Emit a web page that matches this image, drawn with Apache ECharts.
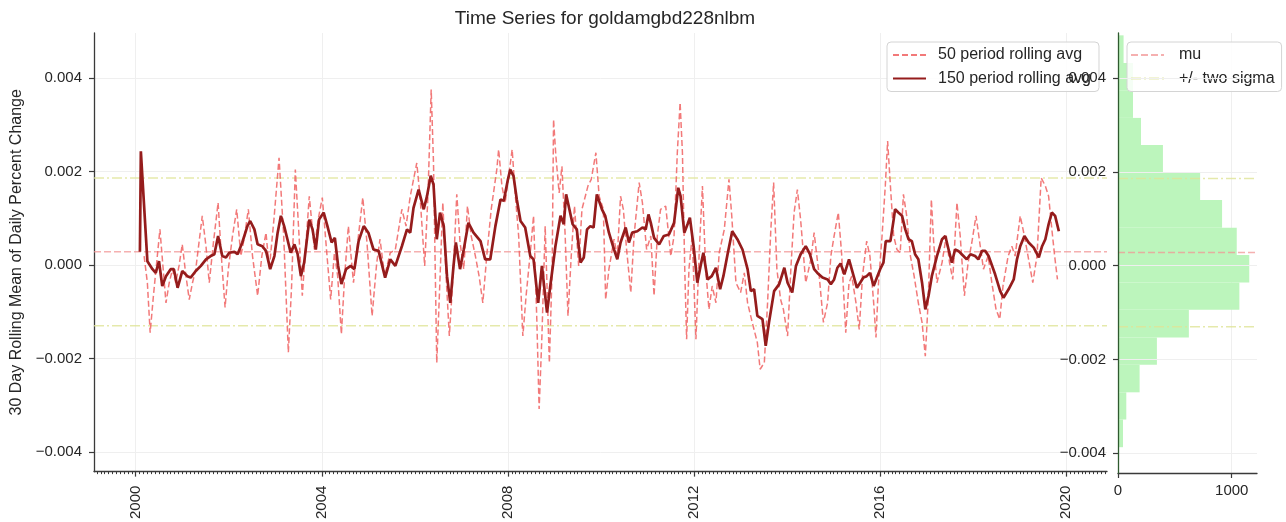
<!DOCTYPE html>
<html>
<head>
<meta charset="utf-8">
<title>Time Series for goldamgbd228nlbm</title>
<script src="https://cdn.jsdelivr.net/npm/echarts@6/dist/echarts.min.js"></script>
<style>
  html, body { margin: 0; padding: 0; background: #ffffff; }
  #chart { width: 1286px; height: 522px; }
</style>
</head>
<body>
<div id="chart"></div>
<script>
// ---- data -------------------------------------------------------------
// 50 period rolling average (decimal years / value)
const dates50 = [
  2000.18, 2000.25, 2000.31, 2000.38, 2000.45, 2000.52, 2000.59, 2000.65, 2000.72, 2000.79,
  2000.86, 2000.93, 2001.00, 2001.08, 2001.15, 2001.22, 2001.29, 2001.36, 2001.43, 2001.51,
  2001.58, 2001.67, 2001.77, 2001.84, 2001.92, 2001.99, 2002.08, 2002.17, 2002.26, 2002.34,
  2002.42, 2002.51, 2002.62, 2002.71, 2002.80, 2002.87, 2002.97, 2003.08, 2003.18, 2003.28,
  2003.35, 2003.43, 2003.51, 2003.58, 2003.66, 2003.73, 2003.84, 2003.92, 2004.01, 2004.10,
  2004.19, 2004.27, 2004.34, 2004.42, 2004.49, 2004.57, 2004.68, 2004.77, 2004.88, 2004.97,
  2005.08, 2005.18, 2005.25, 2005.35, 2005.47, 2005.58, 2005.72, 2005.81, 2005.90, 2006.04,
  2006.11, 2006.21, 2006.28, 2006.35, 2006.40, 2006.47, 2006.52, 2006.60, 2006.67, 2006.74,
  2006.82, 2006.90, 2006.97, 2007.05, 2007.13, 2007.21, 2007.30, 2007.38, 2007.46, 2007.55,
  2007.64, 2007.76, 2007.80, 2007.87, 2007.94, 2008.09, 2008.16, 2008.23, 2008.32, 2008.39,
  2008.48, 2008.55, 2008.62, 2008.67, 2008.73, 2008.80, 2008.89, 2008.95, 2008.98, 2009.03,
  2009.10, 2009.16, 2009.23, 2009.29, 2009.36, 2009.43, 2009.52, 2009.59, 2009.72, 2009.79,
  2009.89, 2009.96, 2010.05, 2010.10, 2010.17, 2010.28, 2010.35, 2010.42, 2010.48, 2010.55,
  2010.64, 2010.71, 2010.82, 2010.89, 2010.98, 2011.07, 2011.14, 2011.21, 2011.28, 2011.39,
  2011.50, 2011.57, 2011.64, 2011.70, 2011.75, 2011.80, 2011.84, 2011.89, 2011.96, 2012.04,
  2012.11, 2012.18, 2012.25, 2012.32, 2012.39, 2012.47, 2012.54, 2012.65, 2012.75, 2012.81,
  2012.90, 2013.00, 2013.08, 2013.15, 2013.25, 2013.36, 2013.42, 2013.51, 2013.58, 2013.65,
  2013.71, 2013.78, 2013.86, 2013.92, 2014.01, 2014.08, 2014.15, 2014.22, 2014.29, 2014.40,
  2014.51, 2014.58, 2014.69, 2014.78, 2014.87, 2014.94, 2015.01, 2015.10, 2015.17, 2015.26,
  2015.33, 2015.39, 2015.48, 2015.55, 2015.62, 2015.71, 2015.78, 2015.86, 2015.91, 2015.96,
  2016.04, 2016.11, 2016.16, 2016.22, 2016.29, 2016.36, 2016.43, 2016.50, 2016.57, 2016.65,
  2016.73, 2016.82, 2016.90, 2016.97, 2017.03, 2017.10, 2017.15, 2017.22, 2017.33, 2017.42,
  2017.49, 2017.56, 2017.65, 2017.72, 2017.81, 2017.89, 2017.97, 2018.06, 2018.14, 2018.22,
  2018.32, 2018.40, 2018.49, 2018.57, 2018.64, 2018.75, 2018.83, 2018.90, 2019.01, 2019.10,
  2019.19, 2019.28, 2019.37, 2019.46, 2019.55, 2019.62, 2019.69, 2019.75, 2019.81
];
const values50 = [
  0.00019, -0.00038, -0.00145, -0.00066, 0.00005, 0.00076, -0.00009, -0.00081, -0.00038, -0.00009,
  -0.00038, -0.00002, 0.00044, -0.00024, -0.00074, -0.00038, -0.00009, 0.00048, 0.00105, 0.00040,
  -0.00038, 0.00048, 0.00133, 0.00019, -0.00091, -0.00009, 0.00062, 0.00119, 0.00019, 0.00062,
  0.00119, 0.00019, -0.00066, 0.00019, 0.00069, -0.00009, 0.00097, 0.00229, 0.00062, -0.00187,
  -0.00045, 0.00204, 0.00062, -0.00066, 0.00048, 0.00147, 0.00033, 0.00097, 0.00144, 0.00033,
  -0.00074, 0.00026, -0.00024, -0.00148, -0.00024, 0.00083, -0.00038, 0.00048, 0.00144, 0.00048,
  -0.00109, 0.00005, 0.00055, -0.00024, 0.00026, 0.00033, 0.00119, 0.00083, 0.00147, 0.00218,
  0.00147, -0.00002, 0.00147, 0.00375, 0.00218, -0.00209, -0.00081, 0.00133, -0.00024, -0.00152,
  -0.00024, 0.00151, 0.00048, -0.00009, 0.00126, 0.00062, 0.00019, -0.00024, -0.00081, 0.00026,
  0.00119, 0.00204, 0.00247, 0.00169, 0.00133, 0.00247, 0.00147, 0.00062, -0.00152, -0.00066,
  0.00026, 0.00105, -0.00116, -0.00308, -0.00152, 0.00083, -0.00209, -0.00009, 0.00311, 0.00233,
  0.00154, 0.00211, 0.00062, -0.00109, 0.00019, 0.00126, -0.00002, 0.00119, 0.00169, 0.00183,
  0.00240, 0.00147, 0.00119, -0.00074, -0.00009, 0.00055, 0.00019, 0.00147, 0.00119, 0.00033,
  -0.00059, 0.00062, 0.00176, 0.00133, 0.00033, 0.00062, -0.00066, 0.00062, 0.00119, 0.00126,
  0.00019, 0.00062, 0.00240, 0.00347, 0.00240, -0.00009, -0.00159, -0.00009, 0.00062, -0.00159,
  0.00026, 0.00169, -0.00009, -0.00095, -0.00045, -0.00081, 0.00026, 0.00076, 0.00183, 0.00105,
  -0.00038, -0.00059, -0.00017, -0.00081, -0.00123, -0.00166, -0.00223, -0.00209, -0.00081, 0.00076,
  0.00176, -0.00009, -0.00074, -0.00095, -0.00152, -0.00009, 0.00112, 0.00161, 0.00097, -0.00038,
  0.00012, 0.00069, -0.00024, -0.00123, -0.00081, 0.00019, 0.00062, 0.00112, 0.00026, -0.00145,
  -0.00038, -0.00024, -0.00081, -0.00138, -0.00024, 0.00051, 0.00019, -0.00081, -0.00155, -0.00045,
  0.00062, 0.00169, 0.00265, 0.00169, 0.00062, 0.00033, 0.00026, 0.00151, 0.00105, 0.00019,
  -0.00024, -0.00081, -0.00123, -0.00195, -0.00081, 0.00140, 0.00048, -0.00038, 0.00005, 0.00062,
  0.00005, -0.00031, 0.00133, 0.00062, -0.00066, 0.00005, 0.00048, 0.00105, 0.00048, -0.00009,
  0.00019, -0.00038, -0.00095, -0.00116, -0.00045, 0.00019, 0.00040, 0.00019, 0.00105, 0.00062,
  0.00012, -0.00038, 0.00019, 0.00186, 0.00169, 0.00147, 0.00076, 0.00019, -0.00031
];

// 150 period rolling average (decimal years / value)
const dates150 = [
  2000.09, 2000.11, 2000.13, 2000.25, 2000.36, 2000.43, 2000.50, 2000.57, 2000.65, 2000.75,
  2000.82, 2000.90, 2001.00, 2001.11, 2001.18, 2001.29, 2001.40, 2001.51, 2001.61, 2001.69,
  2001.77, 2001.86, 2001.94, 2002.01, 2002.12, 2002.19, 2002.29, 2002.40, 2002.46, 2002.55,
  2002.62, 2002.72, 2002.80, 2002.89, 2002.98, 2003.05, 2003.12, 2003.19, 2003.26, 2003.33,
  2003.41, 2003.48, 2003.55, 2003.62, 2003.73, 2003.80, 2003.87, 2003.94, 2004.04, 2004.12,
  2004.21, 2004.28, 2004.35, 2004.42, 2004.52, 2004.62, 2004.70, 2004.79, 2004.90, 2005.00,
  2005.11, 2005.22, 2005.36, 2005.47, 2005.58, 2005.72, 2005.83, 2005.90, 2005.97, 2006.08,
  2006.19, 2006.26, 2006.34, 2006.40, 2006.47, 2006.54, 2006.62, 2006.69, 2006.76, 2006.83,
  2006.88, 2006.97, 2007.05, 2007.15, 2007.26, 2007.41, 2007.51, 2007.62, 2007.73, 2007.84,
  2007.91, 2008.00, 2008.05, 2008.12, 2008.19, 2008.27, 2008.37, 2008.48, 2008.55, 2008.65,
  2008.73, 2008.84, 2008.91, 2009.02, 2009.13, 2009.20, 2009.25, 2009.32, 2009.39, 2009.48,
  2009.56, 2009.63, 2009.70, 2009.77, 2009.84, 2009.91, 2010.02, 2010.09, 2010.17, 2010.28,
  2010.35, 2010.42, 2010.53, 2010.60, 2010.67, 2010.78, 2010.89, 2010.96, 2011.02, 2011.07,
  2011.14, 2011.25, 2011.35, 2011.46, 2011.57, 2011.66, 2011.71, 2011.79, 2011.86, 2011.91,
  2011.99, 2012.07, 2012.14, 2012.20, 2012.29, 2012.38, 2012.47, 2012.56, 2012.63, 2012.72,
  2012.82, 2012.93, 2013.04, 2013.15, 2013.22, 2013.29, 2013.36, 2013.47, 2013.54, 2013.61,
  2013.72, 2013.83, 2013.94, 2014.01, 2014.11, 2014.19, 2014.29, 2014.40, 2014.49, 2014.58,
  2014.65, 2014.76, 2014.87, 2014.94, 2015.01, 2015.08, 2015.15, 2015.23, 2015.33, 2015.43,
  2015.50, 2015.57, 2015.64, 2015.71, 2015.78, 2015.86, 2015.93, 2016.00, 2016.07, 2016.12,
  2016.22, 2016.29, 2016.32, 2016.39, 2016.47, 2016.54, 2016.61, 2016.68, 2016.75, 2016.82,
  2016.90, 2016.97, 2017.04, 2017.11, 2017.22, 2017.33, 2017.40, 2017.47, 2017.54, 2017.61,
  2017.68, 2017.79, 2017.86, 2017.94, 2018.04, 2018.11, 2018.19, 2018.26, 2018.33, 2018.47,
  2018.58, 2018.65, 2018.76, 2018.87, 2018.94, 2019.01, 2019.10, 2019.19, 2019.30, 2019.41,
  2019.48, 2019.55, 2019.62, 2019.69, 2019.76, 2019.84
];
const values150 = [
  0.00028, 0.00243, 0.00240, 0.00008, -0.00009, -0.00017, 0.00008, -0.00045, -0.00024, -0.00009,
  -0.00009, -0.00049, -0.00013, -0.00024, -0.00027, -0.00013, -0.00002, 0.00012, 0.00019, 0.00023,
  0.00062, 0.00019, 0.00016, 0.00026, 0.00028, 0.00023, 0.00048, 0.00083, 0.00094, 0.00076,
  0.00044, 0.00040, 0.00030, -0.00009, 0.00019, 0.00069, 0.00105, 0.00083, 0.00055, 0.00026,
  0.00044, 0.00023, -0.00024, 0.00005, 0.00097, 0.00076, 0.00033, 0.00097, 0.00112, 0.00083,
  0.00048, 0.00058, -0.00002, -0.00041, -0.00009, -0.00002, -0.00009, 0.00051, 0.00083, 0.00069,
  0.00033, 0.00030, -0.00027, 0.00012, -0.00002, 0.00040, 0.00076, 0.00069, 0.00122, 0.00161,
  0.00119, 0.00147, 0.00191, 0.00172, 0.00055, 0.00112, 0.00083, -0.00024, -0.00081, -0.00002,
  0.00048, -0.00009, 0.00033, 0.00090, 0.00069, 0.00051, 0.00012, 0.00012, 0.00083, 0.00140,
  0.00137, 0.00183, 0.00204, 0.00190, 0.00140, 0.00094, 0.00080, 0.00019, 0.00012, -0.00081,
  -0.00002, -0.00102, -0.00045, 0.00040, 0.00105, 0.00087, 0.00151, 0.00119, 0.00087, 0.00076,
  0.00005, 0.00016, 0.00076, 0.00083, 0.00080, 0.00151, 0.00119, 0.00105, 0.00069, 0.00033,
  0.00012, 0.00048, 0.00080, 0.00048, 0.00069, 0.00072, 0.00080, 0.00076, 0.00108, 0.00090,
  0.00058, 0.00044, 0.00062, 0.00065, 0.00090, 0.00165, 0.00147, 0.00069, 0.00087, 0.00101,
  0.00040, -0.00038, -0.00002, 0.00026, -0.00031, -0.00024, -0.00006, -0.00052, -0.00024, 0.00023,
  0.00072, 0.00055, 0.00033, -0.00009, -0.00056, -0.00052, -0.00109, -0.00116, -0.00173, -0.00123,
  -0.00056, -0.00041, -0.00006, -0.00038, -0.00059, -0.00002, 0.00023, 0.00040, 0.00023, -0.00009,
  -0.00017, -0.00027, -0.00031, -0.00041, -0.00031, -0.00006, 0.00003, -0.00020, 0.00012, -0.00024,
  -0.00049, -0.00038, -0.00027, -0.00024, -0.00017, -0.00045, -0.00027, -0.00009, 0.00005, 0.00051,
  0.00051, 0.00097, 0.00119, 0.00112, 0.00105, 0.00076, 0.00055, 0.00051, 0.00023, 0.00012,
  -0.00038, -0.00095, -0.00066, -0.00024, 0.00019, 0.00055, 0.00062, 0.00033, 0.00005, 0.00033,
  0.00030, 0.00019, 0.00012, 0.00023, 0.00019, 0.00012, 0.00030, 0.00030, 0.00019, -0.00020,
  -0.00056, -0.00070, -0.00052, -0.00031, 0.00012, 0.00040, 0.00062, 0.00048, 0.00037, 0.00016,
  0.00040, 0.00055, 0.00087, 0.00112, 0.00105, 0.00072
];

// Distribution of the 30 day rolling mean: bin edges and counts
const histEdges = [
  -0.00387, -0.00328, -0.00270, -0.00211, -0.00153, -0.00094, -0.00036, 0.00023,
  0.00081, 0.00140, 0.00198, 0.00257, 0.00315, 0.00374, 0.00432, 0.00491
];
const histCounts = [44, 73, 190, 342, 623, 1067, 1154, 1044, 915, 722, 395, 202, 132, 132, 49];

// Mean and the +/- two sigma band
const mu = 0.00028;
const twoSigmaBand = [-0.00130, 0.00186];

// Axis ticks
const yearTicks = [2000, 2004, 2008, 2012, 2016, 2020];
const valueTicks = [-0.004, -0.002, 0.000, 0.002, 0.004];
const countTicks = [0, 1000];

// ---- axis extents ----------------------------------------------------
const X_MIN = 1999.103, X_MAX = 2020.875;
const Y_MIN = -0.00442, Y_MAX = 0.00496;
const COUNT_MAX = 1222;

// monthly minor ticks along the date axis
const monthTicks = [];
for (let yr = 1999; yr <= 2020; yr++) {
  for (let m = 0; m < 12; m++) {
    const v = yr + m / 12;
    if (v >= X_MIN && v <= X_MAX) monthTicks.push(v);
  }
}

const FONT = "'Liberation Sans', Arial, sans-serif";
const TEXT = '#262626';
const SPINE = '#3a3a3a';
const GRIDLINE = '#efefef';

const C50 = 'rgba(240, 98, 98, 0.85)';
const C150 = '#951c1c';
const CMU = 'rgba(242, 150, 150, 0.75)';
const CSIG = 'rgba(222, 228, 150, 0.8)';
const CHIST = '#bcf5bc';

const fmtValue = v => (v < -1e-12 ? '\u2212' : '') + Math.abs(v).toFixed(3);
const zip = (xs, ys) => xs.map((x, i) => [x, ys[i]]);

const muLine = { color: CMU, width: 1.5, type: [7, 3] };
const sigLine = { color: CSIG, width: 1.5, type: [10, 3, 2, 3] };

// one horizontal rule spanning a panel's full x extent
function hRule(name, xIdx, yIdx, xExtent, value, style, z) {
  return {
    name: name,
    type: 'line',
    xAxisIndex: xIdx,
    yAxisIndex: yIdx,
    data: [[xExtent[0], value], [xExtent[1], value]],
    symbol: 'none',
    silent: true,
    lineStyle: style,
    z: z
  };
}

const mainExtent = [X_MIN, X_MAX];
const histExtent = [0, COUNT_MAX];

const chart = echarts.init(document.getElementById('chart'), null, { renderer: 'canvas' });

const legendCommon = {
  orient: 'vertical', top: 42, z: 3,
  itemWidth: 33, itemHeight: 14, itemGap: 7.5,
  backgroundColor: 'rgba(255,255,255,0.85)',
  borderColor: '#d4d4d4', borderWidth: 1, borderRadius: 4,
  itemStyle: { opacity: 0 }
};

const option = {
  animation: false,
  backgroundColor: '#ffffff',
  textStyle: { fontFamily: FONT },
  title: {
    text: 'Time Series for goldamgbd228nlbm',
    left: 600,
    top: 4,
    textAlign: 'center',
    textStyle: { fontFamily: FONT, fontSize: 19, fontWeight: 'normal', color: TEXT }
  },
  grid: [
    { left: 94, top: 33, width: 1013, height: 440 },
    { left: 1118, top: 33, width: 139, height: 440 }
  ],
  xAxis: [
    {
      gridIndex: 0, type: 'value', min: X_MIN, max: X_MAX, position: 'bottom',
      axisLine: { onZero: false, lineStyle: { color: SPINE, width: 1.3 } },
      axisTick: { customValues: yearTicks, length: 5, lineStyle: { color: SPINE, width: 1.2 } },
      axisLabel: {
        customValues: yearTicks, rotate: 90, margin: 14, fontSize: 15, color: TEXT, fontFamily: FONT,
        formatter: v => String(Math.round(v))
      },
      splitLine: { show: true, lineStyle: { color: GRIDLINE, width: 1 } }
    },
    {
      gridIndex: 0, type: 'value', min: X_MIN, max: X_MAX, position: 'bottom',
      axisLine: { show: false, onZero: false },
      axisTick: { customValues: monthTicks, length: 2.5, lineStyle: { color: SPINE, width: 1 } },
      axisLabel: { show: false },
      splitLine: { show: false }
    },
    {
      gridIndex: 1, type: 'value', min: 0, max: COUNT_MAX, position: 'bottom',
      axisLine: { onZero: false, lineStyle: { color: SPINE, width: 1.3 } },
      axisTick: { customValues: countTicks, length: 5, lineStyle: { color: SPINE, width: 1.2 } },
      axisLabel: {
        customValues: countTicks, margin: 10, fontSize: 15, color: TEXT, fontFamily: FONT,
        formatter: v => String(Math.round(v))
      },
      splitLine: { show: true, lineStyle: { color: GRIDLINE, width: 1 } }
    }
  ],
  yAxis: [
    {
      gridIndex: 0, type: 'value', min: Y_MIN, max: Y_MAX,
      name: '30 Day Rolling Mean of Daily Percent Change',
      nameLocation: 'middle', nameGap: 66, nameRotate: 90,
      nameTextStyle: { fontSize: 16, color: TEXT, fontFamily: FONT },
      axisLine: { onZero: false, lineStyle: { color: SPINE, width: 1.3 } },
      axisTick: { customValues: valueTicks, length: 5, lineStyle: { color: SPINE, width: 1.2 } },
      axisLabel: { customValues: valueTicks, margin: 12, fontSize: 15, color: TEXT, fontFamily: FONT, formatter: fmtValue },
      splitLine: { show: true, lineStyle: { color: GRIDLINE, width: 1 } }
    },
    {
      gridIndex: 1, type: 'value', min: Y_MIN, max: Y_MAX, z: 10,
      axisLine: { onZero: false, lineStyle: { color: '#2f5a2f', width: 1.3 } },
      axisTick: { customValues: valueTicks, length: 5, lineStyle: { color: SPINE, width: 1.2 } },
      axisLabel: { customValues: valueTicks, margin: 12, fontSize: 15, color: TEXT, fontFamily: FONT, formatter: fmtValue },
      splitLine: { show: true, lineStyle: { color: GRIDLINE, width: 1 } }
    }
  ],
  legend: [
    Object.assign({}, legendCommon, {
      data: ['50 period rolling avg', '150 period rolling avg'],
      left: 887,
      padding: [5, 8, 5, 5],
      textStyle: { fontSize: 16, color: TEXT, fontFamily: FONT, padding: [0, 0, 0, 7] }
    }),
    Object.assign({}, legendCommon, {
      data: ['mu', '+/- two sigma'],
      left: 1127,
      padding: [5, 7, 5, 3],
      textStyle: { fontSize: 16, color: TEXT, fontFamily: FONT, padding: [0, 0, 0, 10] }
    })
  ],
  series: [
    // reference lines in the time series panel
    hRule('mu', 0, 0, mainExtent, mu, muLine, 1),
    hRule('+/- two sigma', 0, 0, mainExtent, twoSigmaBand[0], sigLine, 1),
    hRule('+/- two sigma', 0, 0, mainExtent, twoSigmaBand[1], sigLine, 1),
    {
      name: '50 period rolling avg', type: 'line', xAxisIndex: 0, yAxisIndex: 0,
      data: zip(dates50, values50), symbol: 'none', z: 2,
      lineStyle: { color: C50, width: 1.5, type: [6, 3] }
    },
    {
      name: '150 period rolling avg', type: 'line', xAxisIndex: 0, yAxisIndex: 0,
      data: zip(dates150, values150), symbol: 'none', z: 3,
      lineStyle: { color: C150, width: 2.7 }
    },
    // horizontal histogram of the daily values
    {
      name: 'distribution', type: 'custom', xAxisIndex: 2, yAxisIndex: 1, z: 1,
      data: histCounts.map((c, i) => [histEdges[i], histEdges[i + 1], c]),
      encode: { x: 2, y: [0, 1] },
      renderItem: function (params, api) {
        const top = api.coord([0, api.value(1)]);
        const bottom = api.coord([api.value(2), api.value(0)]);
        return {
          type: 'rect',
          shape: { x: top[0], y: top[1], width: bottom[0] - top[0], height: bottom[1] - top[1] },
          style: { fill: CHIST }
        };
      }
    },
    // reference lines in the histogram panel
    hRule('mu', 2, 1, histExtent, mu, muLine, 3),
    hRule('+/- two sigma', 2, 1, histExtent, twoSigmaBand[0], sigLine, 3),
    hRule('+/- two sigma', 2, 1, histExtent, twoSigmaBand[1], sigLine, 3)
  ]
};

chart.setOption(option);
</script>
</body>
</html>
